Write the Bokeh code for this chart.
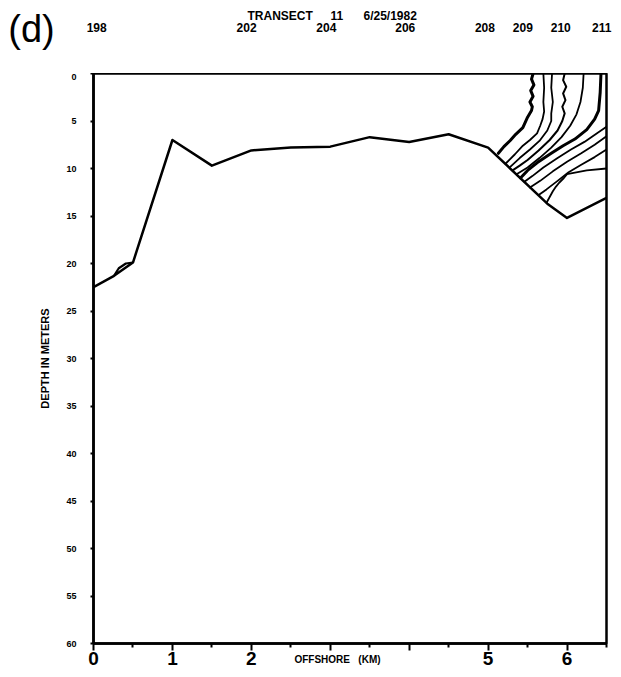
from bokeh.plotting import figure
from bokeh.models import Range1d, FixedTicker
from bokeh.layouts import column
from bokeh.core.properties import value
from bokeh.embed import file_html
from bokeh.resources import INLINE

# ---- data ----
bottom_km = [0.0, 0.26, 0.5, 1.0, 1.5, 2.0, 2.5, 3.0, 3.5, 4.0, 4.5, 5.0, 5.75, 6.0, 6.5]
bottom_depth = [22.5, 21.3, 19.9, 7.0, 9.7, 8.1, 7.8, 7.7, 6.7, 7.2, 6.4, 7.8, 13.7, 15.2, 13.1]

loop_km = [0.26, 0.32, 0.41, 0.5]
loop_depth = [21.3, 20.5, 20.0, 19.9]

contour_km = [
    [5.57, 5.55, 5.58, 5.54, 5.57, 5.53, 5.56, 5.55, 5.50, 5.44, 5.35, 5.28, 5.20, 5.13],
    [5.70, 5.71, 5.70, 5.71, 5.69, 5.66, 5.62, 5.53, 5.44, 5.34, 5.22],
    [5.81, 5.80, 5.82, 5.80, 5.80, 5.75, 5.65, 5.53, 5.40, 5.27],
    [5.97, 5.95, 5.99, 5.95, 5.98, 5.94, 5.97, 5.94, 5.88, 5.78, 5.64, 5.50, 5.40, 5.31],
    [6.21, 6.20, 6.17, 6.12, 6.04, 5.93, 5.80, 5.65, 5.50, 5.36],
    [6.43, 6.42, 6.40, 6.35, 6.25, 6.10, 5.95, 5.80, 5.62, 5.50, 5.41],
    [6.50, 6.38, 6.22, 6.05, 5.88, 5.70, 5.56, 5.46],
    [6.50, 6.35, 6.18, 6.00, 5.82, 5.66, 5.53],
    [6.50, 6.35, 6.18, 6.02, 5.88, 5.74, 5.64],
    [6.50, 6.25, 6.00, 5.96, 5.90, 5.86, 5.82, 5.74],
]
contour_depth = [
    [0.0, 0.6, 1.2, 1.8, 2.4, 3.0, 3.5, 3.9, 4.6, 5.7, 6.4, 7.05, 7.7, 8.4],
    [0.0, 1.5, 3.0, 4.0, 4.8, 5.5, 6.3, 7.0, 7.6, 8.5, 9.5],
    [0.0, 1.5, 3.0, 4.2, 5.0, 6.0, 7.1, 8.0, 8.9, 9.9],
    [0.0, 0.7, 1.4, 2.1, 2.8, 3.5, 4.2, 5.0, 6.0, 7.0, 8.1, 9.1, 9.7, 10.2],
    [0.0, 1.5, 3.0, 4.3, 5.5, 6.7, 7.8, 8.9, 9.9, 10.6],
    [0.0, 2.0, 3.9, 4.8, 5.9, 6.9, 7.6, 8.4, 9.4, 10.2, 11.0],
    [5.6, 6.3, 7.2, 8.0, 8.9, 9.9, 10.8, 11.4],
    [6.6, 7.5, 8.4, 9.3, 10.3, 11.3, 12.0],
    [8.0, 8.8, 9.6, 10.4, 11.3, 12.2, 12.8],
    [10.0, 10.2, 10.6, 11.0, 11.5, 11.9, 12.4, 13.6],
]
contour_width = [3.0, 1.8, 1.8, 2.0, 1.8, 3.0, 1.8, 1.8, 1.8, 1.8]

station_names = ["198", "202", "204", "206", "208", "209", "210", "211"]
station_km = [0.04, 1.94, 2.95, 3.95, 4.96, 5.44, 5.92, 6.44]

title_parts = ["TRANSECT", "11", "6/25/1982"]
panel_label = "(d)"

x_ticks = [0, 1, 2, 3, 4, 5, 6]
x_minor = [0.5, 1.5, 2.5, 3.5, 4.5, 5.5, 6.5]
x_hidden = [3, 4]
y_ticks = list(range(0, 61, 5))

FONT = "Liberation Sans"
W, H = 621, 677
LEFT, TOP, RIGHT, BOTTOM = 93, 73, 606, 643
PX_KM = (RIGHT - LEFT) / 6.5

# ---- header strip (title, panel letter, station numbers) ----
head = figure(width=W, height=TOP, output_backend="svg", toolbar_location=None,
              x_range=Range1d(-LEFT / PX_KM, (W - LEFT) / PX_KM), y_range=Range1d(TOP, 0),
              x_axis_type=None, y_axis_type=None, min_border=0)
head.frame_align = False
head.outline_line_color = None
head.grid.visible = False
head.background_fill_color = "white"
head.border_fill_color = "white"

head.text(x=[-0.786], y=[28], text=[panel_label], text_font=value(FONT),
          text_font_size=value("38px"), text_align="center", text_baseline="middle",
          text_color="black")
head.text(x=[1.951, 3.003, 3.421], y=[15, 15, 15], text=title_parts, text_font=value(FONT),
          text_font_size=value("12px"), text_font_style="bold", text_align="left",
          text_baseline="middle", text_color="black")
head.text(x=station_km, y=[27] * len(station_km), text=station_names, text_font=value(FONT),
          text_font_size=value("12px"), text_font_style="bold", text_align="center",
          text_baseline="middle", text_color="black")

# ---- main section ----
p = figure(width=W, height=H - TOP, output_backend="svg", toolbar_location=None,
           x_range=Range1d(0, 6.5), y_range=Range1d(60, 0),
           min_border_left=LEFT, min_border_right=W - RIGHT, min_border_top=0,
           min_border_bottom=H - BOTTOM)
p.frame_align = False
p.background_fill_color = "white"
p.border_fill_color = "white"
p.grid.visible = False
p.outline_line_color = "black"
p.outline_line_width = 2.5

p.line(bottom_km, bottom_depth, line_color="black", line_width=2.5, line_join="round")
p.line(loop_km, loop_depth, line_color="black", line_width=2.2, line_join="round")
for xs, ds, w in zip(contour_km, contour_depth, contour_width):
    p.line(xs, ds, line_color="black", line_width=w, line_join="round", line_cap="round")

xa = p.xaxis[0]
xa.ticker = FixedTicker(ticks=x_ticks, minor_ticks=x_minor)
xa.major_label_overrides = {t: "" for t in x_hidden}
xa.major_label_text_font = FONT
xa.major_label_text_font_style = "bold"
xa.major_label_text_font_size = "19px"
xa.major_label_text_color = "black"
xa.major_tick_out = 7
xa.major_tick_in = 0
xa.minor_tick_out = 4
xa.minor_tick_in = 0
xa.major_tick_line_width = 2
xa.minor_tick_line_width = 2
xa.axis_line_width = 2.5
xa.major_label_standoff = 1
xa.axis_label = "OFFSHORE\u00a0\u00a0\u00a0(KM)" + "\u00a0" * 9
xa.axis_label_text_font = FONT
xa.axis_label_text_font_style = "bold"
xa.axis_label_text_font_size = "10px"
xa.axis_label_text_color = "black"
xa.axis_label_standoff = -14

ya = p.yaxis[0]
ya.ticker = FixedTicker(ticks=y_ticks, minor_ticks=[])
ya.major_label_text_font = FONT
ya.major_label_text_font_style = "bold"
ya.major_label_text_font_size = "9px"
ya.major_label_text_color = "black"
ya.major_tick_out = 3
ya.major_tick_in = 0
ya.major_tick_line_width = 2
ya.minor_tick_line_color = None
ya.axis_line_width = 2.5
ya.major_label_standoff = 14
ya.axis_label = "DEPTH IN METERS"
ya.axis_label_text_font = FONT
ya.axis_label_text_font_style = "bold"
ya.axis_label_text_font_size = "11px"
ya.axis_label_text_color = "black"
ya.axis_label_standoff = 12

layout = column(head, p, spacing=0)
open("out.html", "w").write(file_html(layout, INLINE))
